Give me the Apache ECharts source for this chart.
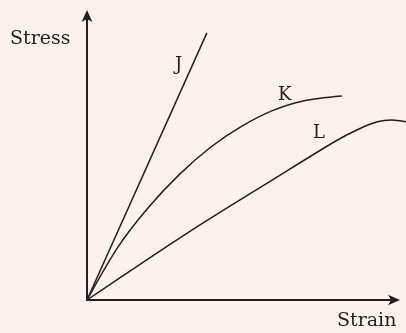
<!DOCTYPE html>
<html>
<head>
<meta charset="utf-8">
<script src="https://cdn.jsdelivr.net/npm/echarts@6/dist/echarts.min.js"></script>
<style>
  html, body { margin: 0; padding: 0; background: #fdf1ed; }
  #main { width: 406px; height: 333px; }
</style>
</head>
<body>
<div id="main"></div>
<script>
var dom = document.getElementById("main");
var myChart = echarts.init(dom);

// strain (x) / stress (y), arbitrary units 0-100
var curveJ = [[0, 0], [38.8, 93.4]];
var curveK = [[0, 0], [10, 18.5], [20, 32.5], [30, 44.0], [40, 53.4],
              [50, 60.7], [60, 66.2], [70, 69.6], [82.5, 71.3]];
var curveL = [[0, 0], [33.3, 24.0], [60.3, 42.2], [80.5, 55.6], [88, 59.8],
              [94, 62.3], [98.6, 62.9], [103.2, 62.3]];
var curveNames = ['J', 'K', 'L'];

var ink = '#231f20';
var font = 'DejaVu Serif';
var plotLeft = 87, plotRight = 10;

function lineSeries(name, data) {
    return {
        name: name,
        type: 'line',
        xAxisIndex: 1,
        yAxisIndex: 1,
        data: data,
        smooth: 0.3,
        showSymbol: false,
        lineStyle: { color: ink, width: 1.5 }
    };
}

function axisStyle(show, max) {
    return {
        type: 'value',
        min: 0,
        max: max,
        gridIndex: show ? 0 : 1,
        axisLine: {
            show: show,
            symbol: ['none', 'arrow'],
            symbolSize: [8, 12],
            symbolOffset: [0, 4],
            lineStyle: { color: ink, width: 2 }
        },
        axisTick: { show: false },
        axisLabel: { show: false },
        splitLine: { show: false }
    };
}

// second grid runs to the right edge so curve L is not cut at the arrow
var axisWidth = 406 - plotLeft - plotRight;
var wideMax = 100 * (406 - plotLeft) / axisWidth;

option = {
    backgroundColor: '#fdf1ed',
    animation: false,
    grid: [
        { left: plotLeft, right: plotRight, top: 14, bottom: 33 },
        { left: plotLeft, right: 0, top: 14, bottom: 33 }
    ],
    xAxis: [axisStyle(true, 100), axisStyle(false, wideMax)],
    yAxis: [axisStyle(true, 100), axisStyle(false, 100)],
    graphic: [
        { type: 'text', left: 10, top: 30, style: { text: 'Stress', font: '19px ' + font, fill: ink } },
        { type: 'text', left: 337, top: 312, style: { text: 'Strain', font: '19px ' + font, fill: ink } },
        { type: 'text', left: 175, top: 56, style: { text: curveNames[0], font: '18px ' + font, fill: ink } },
        { type: 'text', left: 278, top: 86, style: { text: curveNames[1], font: '18px ' + font, fill: ink } },
        { type: 'text', left: 313, top: 124, style: { text: curveNames[2], font: '18px ' + font, fill: ink } }
    ],
    series: [
        lineSeries(curveNames[0], curveJ),
        lineSeries(curveNames[1], curveK),
        lineSeries(curveNames[2], curveL)
    ]
};

if (option && typeof option === "object") {
    myChart.setOption(option, true);
}
</script>
</body>
</html>
